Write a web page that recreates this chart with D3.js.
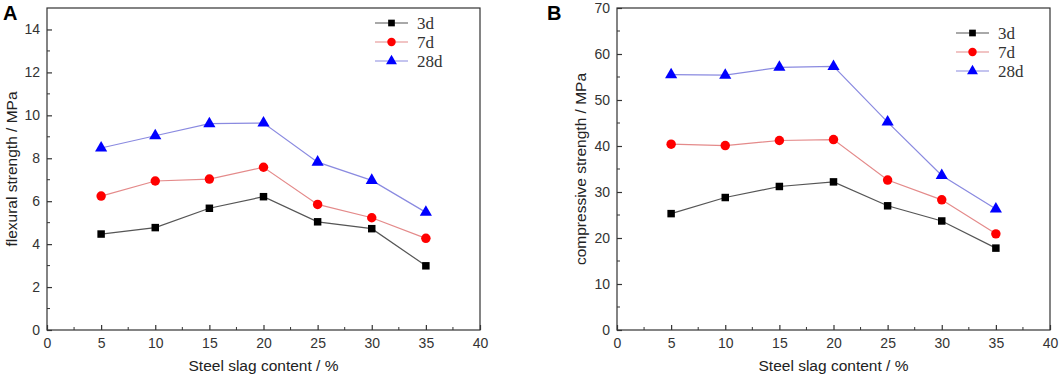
<!DOCTYPE html>
<html>
<head>
<meta charset="utf-8">
<script src="https://cdn.jsdelivr.net/npm/d3@7"></script>
<style>
  body { margin: 0; background: #fff; }
  svg { display: block; }
</style>
</head>
<body>
<svg id="chart" width="1059" height="377"></svg>
<script>
// steel slag content (%)
const slag = [5, 10, 15, 20, 25, 30, 35];
const seriesNames = ["3d", "7d", "28d"];

// panel A: flexural strength (MPa)
const flex3d = [4.47, 4.77, 5.67, 6.21, 5.04, 4.72, 2.99];
const flex7d = [6.24, 6.94, 7.03, 7.58, 5.85, 5.23, 4.27];
const flex28d = [8.48, 9.05, 9.61, 9.64, 7.82, 6.97, 5.48];

// panel B: compressive strength (MPa)
const comp3d = [25.3, 28.8, 31.2, 32.2, 27.0, 23.7, 17.8];
const comp7d = [40.4, 40.1, 41.2, 41.4, 32.6, 28.3, 20.9];
const comp28d = [55.5, 55.4, 57.1, 57.3, 45.2, 33.6, 26.3];

const xTicks = [0, 5, 10, 15, 20, 25, 30, 35, 40];
const flexTicks = [0, 2, 4, 6, 8, 10, 12, 14];
const compTicks = [0, 10, 20, 30, 40, 50, 60, 70];

const styles = {
  "3d":  { line: "#555", fill: "#000", symbol: d3.symbolSquare, size: 56 },
  "7d":  { line: "#e48a8a", fill: "#f00", symbol: d3.symbolCircle, size: 70 },
  "28d": { line: "#8a8ae0", fill: "#00f", symbol: d3.symbolTriangle, size: 64 }
};

const sans = "Arial, 'Liberation Sans', sans-serif";
const svg = d3.select("#chart");

function drawPanel(opt) {
  const x = d3.scaleLinear().domain([0, 40]).range([opt.left, opt.right]);
  const y = d3.scaleLinear().domain([0, opt.yMax]).range([330, 8]);
  const g = svg.append("g");

  // frame
  g.append("rect")
    .attr("x", opt.left).attr("y", 8)
    .attr("width", opt.right - opt.left).attr("height", 322)
    .attr("fill", "none").attr("stroke", "#333").attr("stroke-width", 1.2);

  // minor ticks
  const xMinor = d3.range(2.5, 40, 5);
  g.selectAll(".xmin").data(xMinor).join("line")
    .attr("x1", d => x(d)).attr("x2", d => x(d))
    .attr("y1", 330).attr("y2", 327)
    .attr("stroke", "#333");
  const yMinor = d3.range(opt.yStep / 2, opt.yMax, opt.yStep);
  g.selectAll(".ymin").data(yMinor).join("line")
    .attr("x1", opt.left).attr("x2", opt.left + 3)
    .attr("y1", d => y(d)).attr("y2", d => y(d))
    .attr("stroke", "#333");

  // axes with inward ticks
  const xAxis = g.append("g").attr("transform", `translate(0,330)`)
    .call(d3.axisBottom(x).tickValues(xTicks).tickSize(-5).tickPadding(8).tickSizeOuter(0));
  const yAxis = g.append("g").attr("transform", `translate(${opt.left},0)`)
    .call(d3.axisLeft(y).tickValues(opt.yTicks).tickSize(-5).tickPadding(7).tickSizeOuter(0));
  [xAxis, yAxis].forEach(a => {
    a.select(".domain").remove();
    a.selectAll("line").attr("stroke", "#333").attr("stroke-width", 1.2);
    a.selectAll("text").attr("font-family", sans)
      .attr("font-size", 14).attr("fill", "#333");
  });

  // axis titles
  g.append("text")
    .attr("x", (opt.left + opt.right) / 2).attr("y", 371)
    .attr("text-anchor", "middle")
    .attr("font-family", sans)
    .attr("font-size", 15.5).attr("fill", "#222")
    .text("Steel slag content / %");
  g.append("text")
    .attr("transform", `translate(${opt.titleX},169) rotate(-90)`)
    .attr("text-anchor", "middle")
    .attr("font-family", sans)
    .attr("font-size", 15.5).attr("fill", "#222")
    .text(opt.yTitle);

  // panel letter
  g.append("text")
    .attr("x", opt.letterX).attr("y", 20)
    .attr("font-family", sans)
    .attr("font-size", 20).attr("font-weight", "bold")
    .text(opt.letter);

  const line = d3.line().x((d, i) => x(slag[i])).y(d => y(d));

  seriesNames.forEach((name, k) => {
    const vals = opt.series[k];
    const s = styles[name];
    g.append("path").datum(vals)
      .attr("d", line)
      .attr("fill", "none").attr("stroke", s.line).attr("stroke-width", 1.2);
    g.selectAll(".pt" + k).data(vals).join("path")
      .attr("transform", (d, i) => `translate(${x(slag[i])},${y(d)})`)
      .attr("d", d3.symbol().type(s.symbol).size(s.size))
      .attr("fill", s.fill);

    // legend
    const ly = opt.legendY + k * 19;
    g.append("line")
      .attr("x1", opt.legendX).attr("x2", opt.legendX + 33)
      .attr("y1", ly).attr("y2", ly)
      .attr("stroke", s.line).attr("stroke-width", 1.2);
    g.append("path")
      .attr("transform", `translate(${opt.legendX + 16.5},${ly})`)
      .attr("d", d3.symbol().type(s.symbol).size(s.size * 0.8))
      .attr("fill", s.fill);
    g.append("text")
      .attr("x", opt.legendX + 42).attr("y", ly + 5.5)
      .attr("font-family", "'Liberation Serif', 'Times New Roman', serif")
      .attr("font-size", 17).attr("fill", "#333")
      .text(name);
  });
}

drawPanel({
  left: 47, right: 480, yMax: 15, yStep: 2, yTicks: flexTicks,
  yTitle: "flexural strength / MPa", titleX: 17, letter: "A", letterX: 3,
  series: [flex3d, flex7d, flex28d], legendX: 375, legendY: 23
});

drawPanel({
  left: 617, right: 1050, yMax: 70, yStep: 10, yTicks: compTicks,
  yTitle: "compressive strength / MPa", titleX: 586, letter: "B", letterX: 547,
  series: [comp3d, comp7d, comp28d], legendX: 956, legendY: 33
});
</script>
</body>
</html>
